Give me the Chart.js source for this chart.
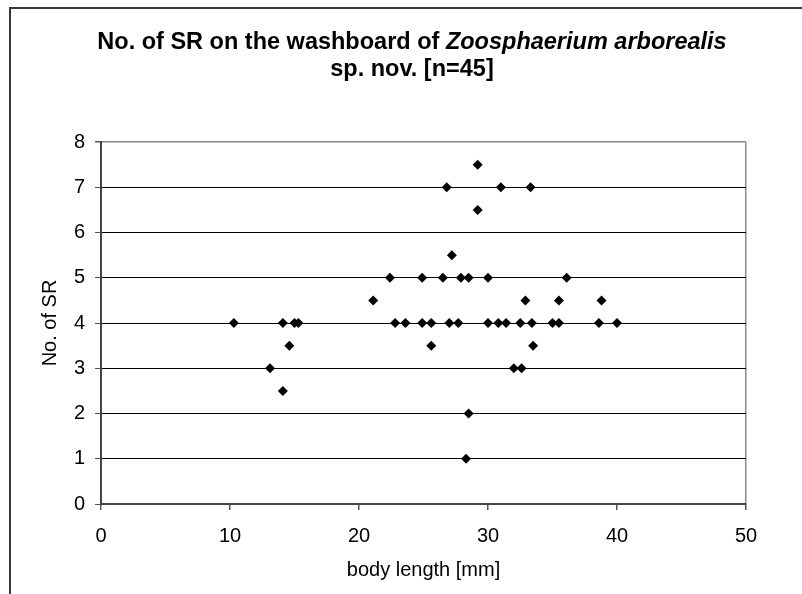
<!DOCTYPE html>
<html>
<head>
<meta charset="utf-8">
<script src="https://cdn.jsdelivr.net/npm/chart.js@4.4.0/dist/chart.umd.min.js"></script>
<style>
  html, body { margin: 0; padding: 0; background: #fff; overflow: hidden; }
  #wrap { position: relative; width: 802px; height: 594px; }
  #frame {
    position: absolute; left: 9px; top: 7px; width: 900px; height: 700px;
    border-left: 2px solid #3a3a3a; border-top: 2px solid #3a3a3a;
  }
  #title {
    position: absolute; left: 0; top: 28px; width: 824px; text-align: center;
    font: bold 23.5px "Liberation Sans", Arial, sans-serif; line-height: 27px; color: #000;
  }
  canvas { position: absolute; left: 0; top: 0; }
</style>
</head>
<body>
<div id="wrap">
  <div id="frame"></div>
  <canvas id="srChart" width="802" height="594"></canvas>
  <div id="title">No. of SR on the washboard of <i>Zoosphaerium arborealis</i><br>sp. nov. [n=45]</div>
</div>
<script>
// body length [mm] and number of SR per specimen
const bodyLength = [10.3, 13.1, 14.1, 14.1, 14.6, 15.0, 15.3, 21.1, 22.4, 22.8,
                    23.6, 24.9, 24.9, 25.6, 25.6, 26.5, 26.8, 27.0, 27.2, 27.7,
                    27.9, 28.3, 28.5, 28.5, 29.2, 29.2, 30.0, 30.0, 30.8, 31.0,
                    31.4, 32.0, 32.5, 32.6, 32.9, 33.3, 33.4, 33.5, 35.0, 35.5,
                    35.5, 36.1, 38.6, 38.8, 40.0];
const srCount = [4, 3, 4, 2.5, 3.5, 4, 4, 4.5, 5, 4,
                 4, 5, 4, 4, 3.5, 5, 7, 4, 5.5, 4,
                 5, 1, 5, 2, 7.5, 6.5, 5, 4, 4, 7,
                 4, 3, 4, 3, 4.5, 7, 4, 3.5, 4, 4.5,
                 4, 5, 4, 4.5, 4];

const xTitle = 'body length [mm]';
const yTitle = 'No. of SR';
const xTicks = { min: 0, max: 50, step: 10 };
const yTicks = { min: 0, max: 8, step: 1 };

const points = bodyLength.map((x, i) => ({ x: x, y: srCount[i] }));
const font = { family: '"Liberation Sans", Arial, sans-serif', size: 20 };

new Chart(document.getElementById('srChart').getContext('2d'), {
    type: 'scatter',
    data: {
        datasets: [{
            data: points,
            pointStyle: 'rectRot',
            pointRadius: 5,
            pointBorderWidth: 0,
            backgroundColor: '#000',
            borderColor: '#000',
        }],
    },
    options: {
        responsive: false,
        animation: false,
        layout: { padding: { left: 30, top: 142, right: 56, bottom: 0 } },
        plugins: { legend: { display: false }, tooltip: { enabled: false } },
        scales: {
            x: {
                type: 'linear',
                min: xTicks.min,
                max: xTicks.max,
                afterFit: (scale) => { scale.height = 90; },
                ticks: { stepSize: xTicks.step, color: '#000', font: font, padding: 14 },
                grid: {
                    color: (ctx) => (ctx.tick && ctx.tick.value === xTicks.max ? '#8a8a8a' : 'rgba(0,0,0,0)'),
                    lineWidth: 1.5,
                    tickLength: 6,
                    tickColor: '#555',
                },
                border: { color: '#444', width: 2 },
                title: { display: true, text: xTitle, color: '#000', font: font, padding: { top: 0, bottom: 12 } },
            },
            y: {
                type: 'linear',
                min: yTicks.min,
                max: yTicks.max,
                afterFit: (scale) => { scale.width = 71; },
                ticks: { stepSize: yTicks.step, color: '#000', font: font, padding: 10 },
                grid: {
                    color: (ctx) => (ctx.tick && ctx.tick.value === yTicks.max ? '#8a8a8a' : '#000'),
                    lineWidth: (ctx) => (ctx.tick && ctx.tick.value === yTicks.max ? 1.5 : 1),
                    tickLength: 6,
                    tickColor: '#555',
                },
                border: { color: '#444', width: 2 },
                title: { display: true, text: yTitle, color: '#000', font: font, padding: { top: 8, bottom: 0 } },
            },
        },
    },
});
</script>
</body>
</html>
